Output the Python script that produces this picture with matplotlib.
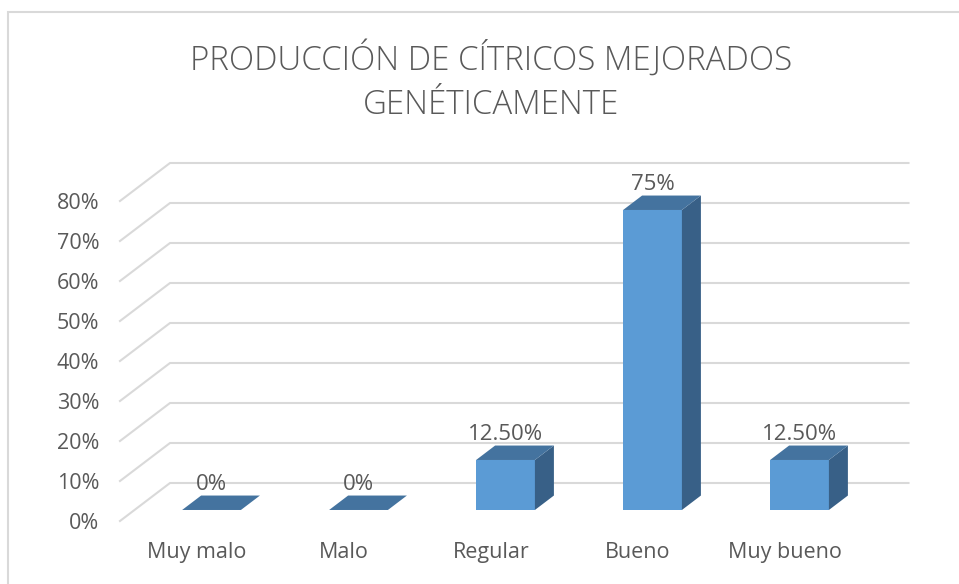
import matplotlib.pyplot as plt
from matplotlib.patches import Polygon, Rectangle

# data
categories = ['Muy malo', 'Malo', 'Regular', 'Bueno', 'Muy bueno']
values = [0, 0, 12.5, 75, 12.5]
value_labels = ['0%', '0%', '12.50%', '75%', '12.50%']
yticks = [0, 10, 20, 30, 40, 50, 60, 70, 80]
title = 'PRODUCCIÓN DE CÍTRICOS MEJORADOS\nGENÉTICAMENTE'

plt.rcParams['font.family'] = ['Open Sans', 'DejaVu Sans']
text_color = '#595959'
grid_color = '#d9d9d9'
front_color = '#5b9bd5'
top_color = '#44739f'
side_color = '#386087'

W, H = 959, 584
fig = plt.figure(figsize=(W / 100, H / 100), dpi=100)

# chart border
fig.patches.append(Rectangle((8 / W, -0.01), 1.0, (H - 12) / H + 0.01,
                             transform=fig.transFigure, fill=False,
                             edgecolor='#d9d9d9', linewidth=1.5))

# axes: front floor at y px 521, 4 px per percent, categories 147 px apart
left_px, right_px = 120, 858.5
ax = fig.add_axes([left_px / W, (H - 521) / H, (right_px - left_px) / W, 320 / H])
ax.set_xlim(-0.524, 4.5)
ax.set_ylim(0, 80)
for s in ax.spines.values():
    s.set_visible(False)

# oblique depth offset (data units)
dxT, dyT = 50 / 147, 9.5
x0, x1 = ax.get_xlim()

# gridlines: diagonal side wall + back wall
for v in yticks:
    ax.plot([x0, x0 + dxT, x1 + dxT], [v, v + dyT, v + dyT],
            color=grid_color, linewidth=1.5, clip_on=False, zorder=1)

# bars
f0, f1 = 0.29, 0.67
half = 0.2
for i, (v, lab) in enumerate(zip(values, value_labels)):
    xl = i - half + f0 * dxT
    xr = i + half + f0 * dxT
    yb = f0 * dyT
    ddx, ddy = (f1 - f0) * dxT, (f1 - f0) * dyT
    if v > 0:
        ax.add_patch(Polygon([(xl, yb), (xr, yb), (xr, yb + v), (xl, yb + v)],
                             closed=True, facecolor=front_color, edgecolor='none',
                             clip_on=False, zorder=3))
        ax.add_patch(Polygon([(xr, yb), (xr + ddx, yb + ddy), (xr + ddx, yb + ddy + v), (xr, yb + v)],
                             closed=True, facecolor=side_color, edgecolor='none',
                             clip_on=False, zorder=3))
    ax.add_patch(Polygon([(xl, yb + v), (xr, yb + v), (xr + ddx, yb + ddy + v), (xl + ddx, yb + ddy + v)],
                         closed=True, facecolor=top_color, edgecolor='none',
                         clip_on=False, zorder=3))
    ax.text(i + f0 * dxT, yb + ddy + v + 0.2, lab, ha='center', va='bottom',
            fontsize=16, color=text_color, zorder=4, clip_on=False)

ax.set_yticks(yticks)
ax.set_yticklabels([f'{v}%' for v in yticks])
ax.set_xticks(range(len(categories)))
ax.set_xticklabels(categories)
ax.tick_params(axis='y', length=0, pad=15, labelsize=15.5, labelcolor=text_color)
ax.tick_params(axis='x', length=0, pad=15, labelsize=15.5, labelcolor=text_color)

fig.text(491 / W, 1 - 81 / H, title, ha='center', va='center', fontsize=23.8,
         color=text_color, linespacing=1.42, fontweight='light')

fig.savefig('out.png', dpi=100)
